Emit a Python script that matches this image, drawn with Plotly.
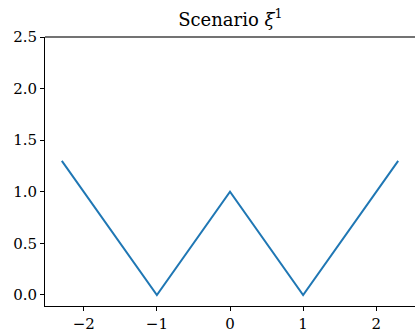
import plotly.graph_objects as go

x_vals = [-2.3, -1.0, 0.0, 1.0, 2.3]
y_vals = [1.3, 0.0, 1.0, 0.0, 1.3]
x_ticks = [-2, -1, 0, 1, 2]
x_tick_labels = ["\u22122", "\u22121", "0", "1", "2"]
y_ticks = [0.0, 0.5, 1.0, 1.5, 2.0, 2.5]
y_tick_labels = ["0.0", "0.5", "1.0", "1.5", "2.0", "2.5"]

font_family = "DejaVu Serif"

fig = go.Figure()
fig.add_trace(go.Scatter(x=x_vals, y=y_vals, mode="lines",
                         line=dict(color="#1f77b4", width=2), showlegend=False))

fig.update_layout(
    width=415, height=333,
    margin=dict(l=45, r=0, t=37, b=27, autoexpand=False),
    paper_bgcolor="white", plot_bgcolor="white",
    font=dict(family=font_family, size=15, color="black"),
    title=dict(text="Scenario <i>\u03be</i><sup>1</sup>", x=0.555, xanchor="center",
               y=0.922, yanchor="bottom", yref="container",
               font=dict(family=font_family, size=18, color="black")),
    xaxis=dict(range=[-2.53, 2.53], tickvals=x_ticks, ticktext=x_tick_labels,
               automargin=False, tickfont=dict(family=font_family, size=15),
               showgrid=False, zeroline=False, showline=True, linecolor="black", linewidth=1,
               ticks="outside", ticklen=4, tickcolor="black", tickwidth=1),
    yaxis=dict(range=[-0.107, 2.5], tickvals=y_ticks, ticktext=y_tick_labels,
               automargin=False, tickfont=dict(family=font_family, size=15),
               showgrid=False, zeroline=False, showline=True, linecolor="black", linewidth=1,
               ticks="outside", ticklen=4, tickcolor="black", tickwidth=1),
    shapes=[dict(type="line", xref="paper", yref="paper", x0=0, x1=1, y0=1, y1=1,
                 line=dict(color="#444444", width=1.5))],
)

fig.write_html("out.html", config={"displayModeBar": False},
               post_script="document.body.style.margin='0';document.body.style.overflow='hidden';")
